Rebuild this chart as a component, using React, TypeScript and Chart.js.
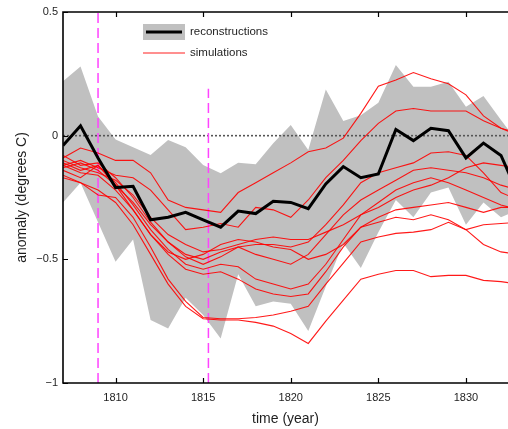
import { useEffect, useRef } from "react";
import { Chart, registerables } from "chart.js";

Chart.register(...registerables);

// Years covered by every series
const years = [
  1807, 1808, 1809, 1810, 1811, 1812, 1813, 1814, 1815, 1816, 1817, 1818, 1819, 1820,
  1821, 1822, 1823, 1824, 1825, 1826, 1827, 1828, 1829, 1830, 1831, 1832, 1833,
];

// Reconstructed temperature anomaly (degrees C) and its spread
const reconstruction = [
  -0.04, 0.04, -0.09, -0.21, -0.205, -0.34, -0.33, -0.31, -0.34, -0.37, -0.305, -0.315, -0.265, -0.27,
  -0.295, -0.195, -0.125, -0.17, -0.155, 0.025, -0.02, 0.03, 0.02, -0.09, -0.03, -0.08, -0.24,
];
const reconUpper = [
  0.22, 0.28, 0.077, -0.015, -0.047, -0.078, -0.018, -0.047, -0.119, -0.152, -0.11, -0.116, -0.031, 0.043,
  -0.058, 0.187, 0.059, 0.083, 0.133, 0.286, 0.198, 0.198, 0.218, 0.117, 0.16, 0.063, -0.03,
];
const reconLower = [
  -0.27, -0.19, -0.35, -0.51, -0.42, -0.745, -0.78, -0.655, -0.725, -0.82, -0.56, -0.69, -0.67, -0.68,
  -0.79, -0.61, -0.435, -0.535, -0.39, -0.26, -0.33, -0.23, -0.21, -0.36, -0.27, -0.33, -0.3,
];

// Model simulation members
const simA = [
  -0.09, -0.05, -0.07, -0.1, -0.1, -0.15, -0.26, -0.29, -0.3, -0.31, -0.23, -0.19, -0.15, -0.11,
  -0.065, -0.05, -0.01, 0.09, 0.2, 0.225, 0.255, 0.23, 0.21, 0.165, 0.08, 0.03, 0.01,
];
const simB = [
  -0.12, -0.1, -0.13, -0.16, -0.17, -0.22, -0.3, -0.38, -0.37, -0.355, -0.37, -0.29, -0.3, -0.33,
  -0.26, -0.17, -0.1, -0.02, 0.05, 0.1, 0.11, 0.1, 0.1, 0.1, 0.06, 0.03, 0.0,
];
const simC = [
  -0.1, -0.13, -0.15, -0.18, -0.24, -0.33, -0.4, -0.44, -0.47, -0.46, -0.44, -0.42, -0.41, -0.42,
  -0.42, -0.39, -0.36, -0.32, -0.29, -0.25, -0.22, -0.2, -0.17, -0.13, -0.11, -0.12, -0.13,
];
const simD = [
  -0.13, -0.11, -0.14, -0.2, -0.27, -0.36, -0.43, -0.48, -0.5, -0.47, -0.45, -0.44, -0.44, -0.45,
  -0.43, -0.36, -0.28, -0.19, -0.15, -0.13, -0.11, -0.07, -0.065, -0.08, -0.15, -0.23, -0.26,
];
const simE = [
  -0.08, -0.12, -0.11, -0.17, -0.25, -0.35, -0.43, -0.49, -0.52, -0.49, -0.45, -0.48, -0.5, -0.52,
  -0.48, -0.4, -0.32, -0.26, -0.22, -0.18, -0.14, -0.13, -0.14, -0.15, -0.17, -0.2, -0.22,
];
const simF = [
  -0.11, -0.14, -0.12, -0.19, -0.28, -0.38, -0.46, -0.52, -0.54, -0.52, -0.53, -0.58, -0.6, -0.62,
  -0.6, -0.52, -0.42, -0.32, -0.27, -0.22, -0.19, -0.17, -0.19, -0.22, -0.25, -0.28, -0.3,
];
const simG = [
  -0.14, -0.17, -0.12, -0.2, -0.3, -0.4, -0.48, -0.54, -0.56, -0.55, -0.58, -0.62, -0.64, -0.65,
  -0.64, -0.55, -0.45, -0.37, -0.33, -0.3, -0.29, -0.28, -0.27, -0.29, -0.31, -0.29, -0.29,
];
const simH = [
  -0.12, -0.15, -0.16, -0.22, -0.3, -0.4, -0.47, -0.5, -0.48, -0.44, -0.42, -0.43, -0.45, -0.46,
  -0.5, -0.48, -0.44, -0.37, -0.35, -0.33, -0.34, -0.32, -0.34, -0.38, -0.44, -0.47, -0.48,
];
const simI = [
  -0.16, -0.19, -0.24, -0.25, -0.33, -0.45, -0.58, -0.67, -0.735, -0.74, -0.74, -0.735, -0.725, -0.71,
  -0.69, -0.6, -0.515, -0.43, -0.41, -0.395, -0.39, -0.38, -0.35, -0.38, -0.36, -0.355, -0.35,
];
const simJ = [
  -0.17, -0.19, -0.22, -0.27, -0.36, -0.48, -0.6, -0.69, -0.74, -0.745, -0.745, -0.755, -0.77, -0.8,
  -0.84, -0.75, -0.665, -0.58, -0.56, -0.545, -0.545, -0.57, -0.565, -0.565, -0.585, -0.59, -0.6,
];
const simulations = [simA, simB, simC, simD, simE, simF, simG, simH, simI, simJ];

// Eruption markers: year and the top of the dashed line
const eruptionYears = [1809, 1815.3];
const eruptionTops = [0.5, 0.19];

// Axes
const xRange = [1807, 1832.4];
const yRange = [-1, 0.5];
const xTicks = [1810, 1815, 1820, 1825, 1830];
const yTicks = [-1, -0.5, 0, 0.5];
const yTickLabels = ["\u22121", "\u22120.5", "0", "0.5"];

const legendLabels = ["reconstructions", "simulations"];

const FONT = "'Liberation Sans', Arial, Helvetica, sans-serif";
const TEXT = "#1e1e1e";
const BAND = "#c0c0c0";

const pts = (ys: number[]) => years.map((x, i) => ({ x, y: ys[i] }));

// Draws the axes box, inward tick marks and the legend
const framePlugin = {
  id: "frame",
  afterDraw(chart: any) {
    const { ctx, chartArea, scales } = chart;
    const { left, right, top, bottom } = chartArea;
    const xs = scales.x;
    const ys = scales.y;
    ctx.save();
    ctx.strokeStyle = "#000";
    ctx.lineWidth = 1.6;
    ctx.beginPath();
    ctx.moveTo(right + 2, top);
    ctx.lineTo(left, top);
    ctx.lineTo(left, bottom);
    ctx.lineTo(right + 2, bottom);
    ctx.stroke();

    ctx.lineWidth = 1.2;
    ctx.beginPath();
    xTicks.forEach((v) => {
      const px = Math.round(xs.getPixelForValue(v)) + 0.5;
      ctx.moveTo(px, bottom);
      ctx.lineTo(px, bottom - 5);
      ctx.moveTo(px, top);
      ctx.lineTo(px, top + 5);
    });
    yTicks.forEach((v) => {
      const py = Math.round(ys.getPixelForValue(v)) + 0.5;
      ctx.moveTo(left, py);
      ctx.lineTo(left + 5, py);
    });
    ctx.stroke();

    // legend
    const lx = 143;
    const ly = 32;
    ctx.fillStyle = BAND;
    ctx.fillRect(lx, ly - 8, 42, 16);
    ctx.strokeStyle = "#000";
    ctx.lineWidth = 3;
    ctx.beginPath();
    ctx.moveTo(lx + 3, ly);
    ctx.lineTo(lx + 39, ly);
    ctx.stroke();
    ctx.strokeStyle = "#ff2020";
    ctx.lineWidth = 1.2;
    ctx.beginPath();
    ctx.moveTo(lx, ly + 21);
    ctx.lineTo(lx + 42, ly + 21);
    ctx.stroke();
    ctx.fillStyle = TEXT;
    ctx.font = `11.5px ${FONT}`;
    ctx.textBaseline = "middle";
    ctx.textAlign = "left";
    ctx.fillText(legendLabels[0], lx + 47, ly);
    ctx.fillText(legendLabels[1], lx + 47, ly + 21);
    ctx.restore();
  },
};

export default function App() {
  const canvasRef = useRef<HTMLCanvasElement | null>(null);

  useEffect(() => {
    const canvas = canvasRef.current;
    if (!canvas) return;

    const line = (data: any[], color: string, width: number, extra: any = {}) => ({
      data,
      borderColor: color,
      backgroundColor: color,
      borderWidth: width,
      pointRadius: 0,
      tension: 0,
      fill: false,
      ...extra,
    });

    const datasets: any[] = [];
    datasets.push(line(pts(reconstruction), "#000000", 3));
    simulations.forEach((s) => datasets.push(line(pts(s), "rgba(255,0,0,0.9)", 1.1)));
    eruptionYears.forEach((yr, i) =>
      datasets.push(
        line(
          [
            { x: yr, y: yRange[0] },
            { x: yr, y: eruptionTops[i] },
          ],
          "#ff44ff",
          1.5,
          { borderDash: [10, 5] }
        )
      )
    );
    datasets.push(
      line(
        [
          { x: xRange[0], y: 0 },
          { x: xRange[1], y: 0 },
        ],
        "#555555",
        1.6,
        { borderDash: [2, 2] }
      )
    );
    datasets.push(line(pts(reconUpper), BAND, 0, { fill: "+1", backgroundColor: BAND }));
    datasets.push(line(pts(reconLower), BAND, 0));

    const chart = new Chart(canvas, {
      type: "line",
      data: { datasets },
      plugins: [framePlugin],
      options: {
        animation: false,
        responsive: false,
        devicePixelRatio: 1,
        layout: { padding: { top: 12, left: 0, right: 0, bottom: 0 } },
        plugins: {
          legend: { display: false },
          tooltip: { enabled: false },
          filler: { drawTime: "beforeDatasetsDraw" },
        },
        scales: {
          x: {
            type: "linear",
            position: "bottom",
            min: xRange[0],
            max: xRange[1],
            afterFit: (s: any) => {
              s.height = 46;
            },
            afterBuildTicks: (s: any) => {
              s.ticks = xTicks.map((value) => ({ value }));
            },
            grid: { display: false, drawTicks: false },
            border: { display: false },
            ticks: {
              autoSkip: false,
              maxRotation: 0,
              padding: 8,
              color: TEXT,
              font: { family: FONT, size: 11 },
              callback: (v: any) => String(v),
            },
            title: {
              display: true,
              text: "time (year)",
              color: TEXT,
              font: { family: FONT, size: 14 },
              padding: { top: 0, bottom: 1.5 },
            },
          },
          y: {
            type: "linear",
            position: "left",
            min: yRange[0],
            max: yRange[1],
            afterFit: (s: any) => {
              s.width = 63;
            },
            afterBuildTicks: (s: any) => {
              s.ticks = yTicks.map((value) => ({ value }));
            },
            grid: { display: false, drawTicks: false },
            border: { display: false },
            ticks: {
              padding: 5,
              color: TEXT,
              font: { family: FONT, size: 11 },
              callback: (v: any) => {
                const i = yTicks.indexOf(Number(v));
                return i >= 0 ? yTickLabels[i] : "";
              },
            },
            title: {
              display: true,
              text: "anomaly (degrees C)",
              color: TEXT,
              font: { family: FONT, size: 14 },
              padding: { top: 14, bottom: 0 },
            },
          },
        },
      },
    });

    return () => chart.destroy();
  }, []);

  return (
    <div
      style={{
        position: "fixed",
        left: 0,
        top: 0,
        width: 508,
        height: 429,
        overflow: "hidden",
        background: "#fff",
      }}
    >
      <canvas ref={canvasRef} width={508} height={429} style={{ display: "block" }} />
    </div>
  );
}
